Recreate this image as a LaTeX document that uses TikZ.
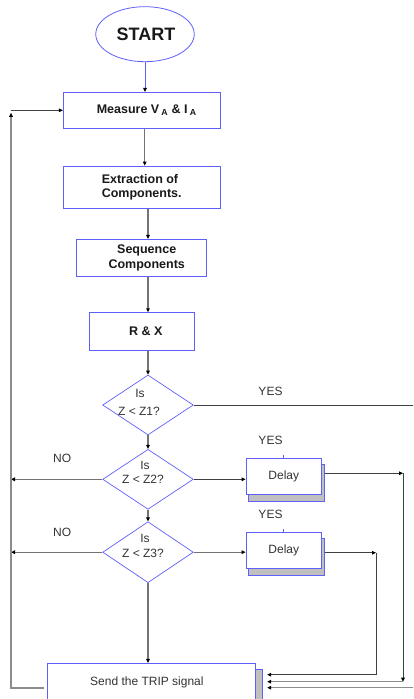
\documentclass[tikz,border=0pt]{standalone}
\usepackage{fontspec}
\setmainfont{Liberation Sans}
\usetikzlibrary{shapes.geometric,arrows.meta,calc,backgrounds}
\definecolor{bl}{RGB}{95,95,250}
\definecolor{shd}{RGB}{192,192,192}
\begin{document}
\begin{tikzpicture}[x=1pt,y=-1pt,
  box/.style={draw=bl,line width=0.8pt,fill=white,rectangle,inner sep=0pt,
    font=\bfseries\fontsize{12.5}{14.4}\selectfont,text=black!90},
  dbox/.style={draw=bl,line width=0.8pt,fill=white,rectangle,inner sep=0pt,
    font=\fontsize{12}{14}\selectfont,text=black!80},
  dia/.style={diamond,draw=bl,line width=0.7pt,inner sep=0pt,minimum width=90.6pt},
  dtext/.style={inner sep=0pt,font=\fontsize{12}{14}\selectfont,text=black!80},
  lbl/.style={inner sep=0pt,font=\fontsize{12}{14}\selectfont,text=black!80},
  tip/.style={-{Triangle[length=4pt,width=3.6pt,color=black]}},
  conn/.style={draw=black!55,line width=1.1pt},
  dconn/.style={draw=black!75,line width=0.9pt},
  gconn/.style={draw=black!45,line width=1.3pt},
  shadowst/.style={draw=bl,line width=0.7pt,fill=shd}]
\useasboundingbox (0,0) rectangle (413,699);
\clip (0,0) rectangle (413,699);

% nodes
\node[ellipse,draw=bl,line width=0.8pt,minimum width=98.5pt,minimum height=55pt,inner sep=0pt,
  font=\bfseries\fontsize{18}{20}\selectfont,text=black!90] (start) at (145,34.2) {\hspace*{2pt}START};
\node[box,minimum width=156.7pt,minimum height=36pt] (measure) at (141.7,110.3)
  {\hspace*{10pt}Measure V\,\textsubscript{A} \& I\,\textsubscript{A}};
\node[box,minimum width=156.7pt,minimum height=42.3pt,align=left] (extract) at (141.7,187.2)
  {Extraction of\\Components.};
\node[box,minimum width=130pt,minimum height=37.4pt] (seq) at (141.7,258)
  {\hspace*{10pt}\begin{tabular}{@{}c@{}}Sequence\\Components\end{tabular}};
\node[box,minimum width=104.7pt,minimum height=37.6pt] (rx) at (141.7,331.5) {\hspace*{8pt}R \& X};

\node[dia,minimum height=60pt] (d1) at (148,405) {};
\node[dia,minimum height=60pt] (d2) at (148,479.3) {};
\node[dia,minimum height=61pt] (d3) at (148,552.2) {};
\node[dtext] (t1a) at (140,393) {Is};
\node[dtext] (t1b) at (139,411) {Z < Z1?};
\node[dtext] (t2a) at (145,465) {Is};
\node[dtext] (t2b) at (143,479) {Z < Z2?};
\node[dtext] (t3a) at (145,538) {Is};
\node[dtext] (t3b) at (143,553) {Z < Z3?};

\node[dbox,minimum width=75.7pt,minimum height=36.3pt] (dl1) at (283.8,476.2) {Delay};
\node[dbox,minimum width=75.7pt,minimum height=36.3pt] (dl2) at (283.8,550.2) {Delay};
\node[dbox,minimum width=208.7pt,minimum height=38pt] (send) at (151.4,682.3) {Send the TRIP signal\hspace*{9pt}};

\node[lbl] (yes1) at (270.5,391.7) {YES};
\node[lbl] (yes2) at (270.5,440.7) {YES};
\node[lbl] (yes3) at (270.5,514.3) {YES};
\node[lbl] (no2) at (62.2,458.3) {NO};
\node[lbl] (no3) at (62.2,532) {NO};

% shadows
\begin{scope}[on background layer]
  \draw[shadowst] ($(dl1.south west)+(2.5,7)$) rectangle ($(dl1.north east)+(2.5,7)$);
  \draw[shadowst] ($(dl2.south west)+(2.5,6.5)$) rectangle ($(dl2.north east)+(2.5,6.5)$);
  \draw[shadowst] ($(send.south west)+(6.5,6)$) rectangle ($(send.north east)+(6.5,6)$);
\end{scope}
\draw[bl,line width=0.7pt] (dl1.north) -- ++(0,-3);
\draw[bl,line width=0.7pt] (dl2.north) -- ++(0,-3);

% coordinates
\coordinate (fb) at (11,110.3);
\coordinate (fbb) at (11,688);
\coordinate (sl) at (44,688);
\coordinate (c1) at (403,473.2);
\coordinate (c2) at (376,552.7);
\coordinate (c3) at (418,405);
\coordinate (s1) at ($(send.east)+(11,-7.6)$);
\coordinate (s2) at ($(send.east)+(11,-0.6)$);
\coordinate (s3) at ($(send.east)+(11,5.4)$);

% main flow
\draw[bl,line width=0.8pt,tip] (start.south) -- (start.south |- measure.north);
\draw[conn,tip] ($(measure.south)+(3,0)$) -- ($(extract.north)+(3,0)$);
\draw[conn,tip] (extract.south -| d1.north) -- (seq.north -| d1.north);
\draw[conn,tip] (seq.south -| d1.north) -- (rx.north -| d1.north);
\draw[conn,tip] (rx.south -| d1.north) -- (d1.north);
\draw[conn,tip] (d1.south) -- (d2.north);
\draw[conn,tip] (d2.south) -- (d3.north);
\draw[conn,tip] (d3.south) -- (d3.south |- send.north);

% NO branches and feedback
\draw[conn,tip] (d2.west) -- (d2.west -| fb);
\draw[conn,tip] (d3.west) -- (d3.west -| fb);
\draw[gconn,tip] (sl) -- (fbb) -- ($(fb)+(0,2.5)$);
\draw[dconn,tip] (fb) -- (measure.west);

% YES branches
\draw[dconn,tip] (d2.east) -- (d2.east -| dl1.west);
\draw[conn,tip] (d3.east) -- (d3.east -| dl2.west);
\draw[dconn,tip] ($(dl1.east)+(2.5,-3)$) -- (c1);
\draw[dconn,tip] (c1) -- (c1 |- s2);
\draw[gconn,tip] (c1 |- s2) -- (s2);
\draw[dconn,tip] ($(dl2.east)+(2.5,2.5)$) -- (c2);
\draw[dconn,tip] (c2) |- (s1);
\draw[dconn] (d1.east) -- (c3);
\draw[gconn,tip] (c3) |- (s3);
\end{tikzpicture}
\end{document}
